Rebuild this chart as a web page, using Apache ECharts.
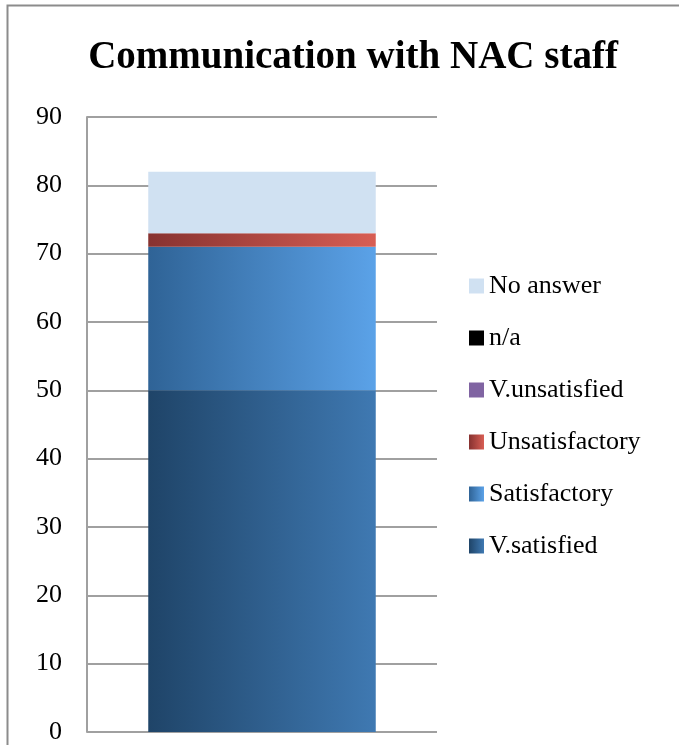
<!DOCTYPE html>
<html>
<head>
<meta charset="utf-8">
<script src="https://cdn.jsdelivr.net/npm/echarts@6/dist/echarts.min.js"></script>
<style>
  html, body { margin: 0; padding: 0; background: #fff; }
  #chart { width: 679px; height: 745px; }
</style>
</head>
<body>
<div id="chart"></div>
<script>
  /******************/
  //region    //data

  let categories = ['Communication with NAC staff'];
  let seriesNames = ['V.satisfied', 'Satisfactory', 'Unsatisfactory', 'V.unsatisfied', 'n/a', 'No answer'];
  let vSatisfied = [50];
  let satisfactory = [21];
  let unsatisfactory = [2];
  let vUnsatisfied = [0];
  let na = [0];
  let noAnswer = [9];
  let yTicks = [0, 10, 20, 30, 40, 50, 60, 70, 80, 90];

  //endregion

  /******************/
  //region    //function

  function grad(from, to) {
    return new echarts.graphic.LinearGradient(0, 0, 1, 0, [
      {offset: 0, color: from},
      {offset: 1, color: to}
    ]);
  }

  let fills = [
    grad('#1f4468', '#3f79b2'),
    grad('#2f6396', '#5ba2e8'),
    grad('#873230', '#d85e54'),
    '#8064a2',
    '#000000',
    '#d0e1f2'
  ];
  let values = [vSatisfied, satisfactory, unsatisfactory, vUnsatisfied, na, noAnswer];

  let chart = echarts.init(document.getElementById('chart'));

  let option = {
    animation: false,
    textStyle: {fontFamily: 'Liberation Serif'},
    title: {
      text: categories[0],
      left: 348,
      textAlign: 'center',
      top: 33,
      textStyle: {
        fontFamily: 'Liberation Serif',
        fontWeight: 'bold',
        fontSize: 39,
        color: '#000'
      }
    },
    graphic: [{
      type: 'rect',
      shape: {x: 7.5, y: 5.5, width: 700, height: 800},
      style: {fill: 'none', stroke: '#8c8c8c', lineWidth: 2},
      silent: true
    }],
    legend: {
      orient: 'vertical',
      left: 464,
      top: 268,
      icon: 'rect',
      itemWidth: 15,
      itemHeight: 15,
      itemGap: 26,
      data: seriesNames.slice().reverse(),
      textStyle: {fontSize: 26, color: '#000', fontFamily: 'Liberation Serif'}
    },
    grid: {left: 87, right: 242, top: 117, bottom: 13, containLabel: false},
    xAxis: {
      type: 'category',
      data: categories,
      axisLabel: {show: false},
      axisTick: {show: false},
      axisLine: {show: false}
    },
    yAxis: {
      type: 'value',
      min: yTicks[0],
      max: yTicks[yTicks.length - 1],
      interval: 10,
      axisLabel: {fontSize: 26, color: '#000', margin: 25, fontFamily: 'Liberation Serif'},
      axisLine: {show: true, lineStyle: {color: '#a0a0a0', width: 2}},
      axisTick: {show: false},
      splitLine: {lineStyle: {color: '#a0a0a0', width: 2}}
    },
    series: seriesNames.map((name, i) => ({
      name,
      type: 'bar',
      stack: 'total',
      barWidth: '65%',
      data: values[i],
      itemStyle: {color: fills[i]}
    }))
  };

  chart.setOption(option);

  //endregion
</script>
</body>
</html>
